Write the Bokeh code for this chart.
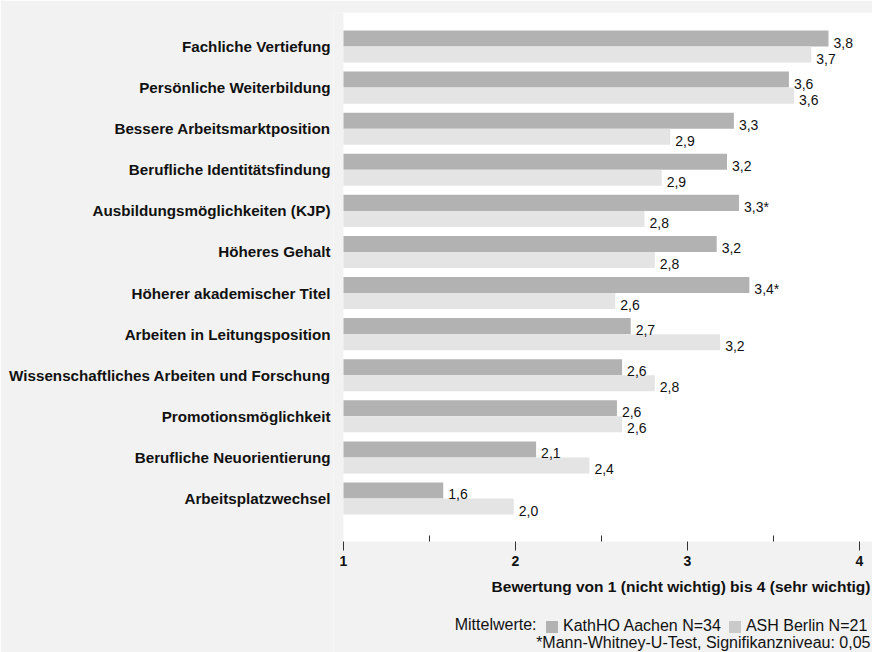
from bokeh.plotting import figure
from bokeh.models import (ColumnDataSource, Range1d, FixedTicker, Label, Legend, LegendItem,
                          BoxAnnotation)
from bokeh.embed import file_html
from bokeh.resources import INLINE

categories = [
    "Fachliche Vertiefung",
    "Persönliche Weiterbildung",
    "Bessere Arbeitsmarktposition",
    "Berufliche Identitätsfindung",
    "Ausbildungsmöglichkeiten (KJP)",
    "Höheres Gehalt",
    "Höherer akademischer Titel",
    "Arbeiten in Leitungsposition",
    "Wissenschaftliches Arbeiten und Forschung",
    "Promotionsmöglichkeit",
    "Berufliche Neuorientierung",
    "Arbeitsplatzwechsel",
]
aachen = [3.82, 3.59, 3.27, 3.23, 3.30, 3.17, 3.36, 2.67, 2.62, 2.59, 2.12, 1.58]
berlin = [3.72, 3.62, 2.90, 2.85, 2.75, 2.81, 2.58, 3.19, 2.81, 2.62, 2.43, 1.99]
aachen_labels = ["3,8", "3,6", "3,3", "3,2", "3,3*", "3,2", "3,4*", "2,7", "2,6", "2,6", "2,1", "1,6"]
berlin_labels = ["3,7", "3,6", "2,9", "2,9", "2,8", "2,8", "2,6", "3,2", "2,8", "2,6", "2,4", "2,0"]
x_ticks = [1, 2, 3, 4]
x_minor = [1.5, 2.5, 3.5]
series_names = ["KathHO Aachen N=34", "ASH Berlin N=21"]
legend_prefix = "Mittelwerte:"
axis_title = "Bewertung von 1 (nicht wichtig) bis 4 (sehr wichtig)"
footnote = "*Mann-Whitney-U-Test, Signifikanzniveau: 0,05"

FONT = "Liberation Sans"
DARK = "#b2b2b2"
LIGHT = "#e4e4e4"
BG = "#f2f2f2"
TXT = "#111111"

X_START = 0.9419    # a little grey room left of the value 1
X_END = 4.076
Y_TOP = -0.828      # top edge of the white plot area
Y_AXIS = 12.047     # position of the value axis (bottom of white area)
Y_BOTTOM = 14.748   # bottom edge of the frame (room for legend/notes)

idx = list(range(len(categories)))
BAR_H = 0.39
src = ColumnDataSource(dict(
    y1=[i - BAR_H / 2 for i in idx],
    y2=[i + BAR_H / 2 for i in idx],
    a=aachen, b=berlin, la=aachen_labels, lb=berlin_labels,
))

p = figure(width=872, height=652, output_backend="svg", toolbar_location=None,
           x_range=Range1d(X_START, X_END), y_range=Range1d(Y_BOTTOM, Y_TOP),
           min_border_left=333, min_border_right=0, min_border_top=12, min_border_bottom=0)
p.background_fill_color = BG
p.border_fill_color = BG
p.outline_line_color = None
p.xgrid.visible = False
p.ygrid.visible = False

p.add_layout(BoxAnnotation(left=1, bottom=Y_AXIS, fill_color="white", fill_alpha=1.0,
                           line_color=None, level="underlay"))

r1 = p.hbar(y="y1", left=1, right="a", height=BAR_H, source=src, fill_color=DARK, line_color=None)
r2 = p.hbar(y="y2", left=1, right="b", height=BAR_H, source=src, fill_color=LIGHT, line_color=None)
g2 = p.hbar(y="y2", left=1, right="b", height=BAR_H, source=src, fill_color="#cacaca",
            line_color=None, visible=False)

p.text(x="a", y="y1", text="la", source=src, x_offset=5, y_offset=4,
       text_baseline="middle", text_align="left", text_font_size="14px",
       text_color=TXT, text_font={"value": FONT})
p.text(x="b", y="y2", text="lb", source=src, x_offset=5, y_offset=4,
       text_baseline="middle", text_align="left", text_font_size="14px",
       text_color=TXT, text_font={"value": FONT})

# y axis
yax = p.yaxis[0]
yax.ticker = FixedTicker(ticks=idx)
yax.major_label_overrides = {i: c for i, c in zip(idx, categories)}
yax.axis_line_color = None
yax.major_tick_line_color = None
yax.minor_tick_line_color = None
yax.major_tick_in = 0
yax.major_tick_out = 0
yax.minor_tick_in = 0
yax.minor_tick_out = 0
yax.major_label_standoff = 3
yax.major_label_text_font = FONT
yax.major_label_text_font_style = "bold"
yax.major_label_text_font_size = "15.2px"
yax.major_label_text_color = TXT

# x axis, drawn at the bottom of the white area
xax = p.xaxis[0]
xax.fixed_location = Y_AXIS
xax.ticker = FixedTicker(ticks=x_ticks, minor_ticks=x_minor)
xax.axis_line_color = None
xax.major_tick_in = 0
xax.major_tick_out = 9
xax.minor_tick_in = 6
xax.minor_tick_out = 0
xax.major_tick_line_color = "#333333"
xax.minor_tick_line_color = "#333333"
xax.major_label_standoff = 5
xax.major_label_text_font = FONT
xax.major_label_text_font_style = "bold"
xax.major_label_text_font_size = "14px"
xax.major_label_text_color = TXT

p.add_layout(Label(x=537, y=66, x_units="screen", y_units="screen", text=axis_title,
                   text_align="right", text_baseline="middle", text_font=FONT,
                   text_font_style="bold", text_font_size="15.5px", text_color=TXT))
p.add_layout(Label(x=203, y=28, x_units="screen", y_units="screen", text=legend_prefix,
                   text_align="right", text_baseline="middle", text_font=FONT,
                   text_font_size="16px", text_color=TXT))
p.add_layout(Label(x=537, y=10, x_units="screen", y_units="screen", text=footnote,
                   text_align="right", text_baseline="middle", text_font=FONT,
                   text_font_size="16px", text_color=TXT))

legend = Legend(items=[LegendItem(label=series_names[0], renderers=[r1]),
                       LegendItem(label=series_names[1], renderers=[g2])],
                orientation="horizontal", location=(211, 17),
                glyph_width=15, glyph_height=15, label_standoff=4, spacing=6,
                padding=0, margin=0, border_line_color=None, background_fill_alpha=0,
                inactive_fill_alpha=0,
                label_text_font=FONT, label_text_font_size="16px",
                label_text_color=TXT, label_height=16)
p.add_layout(legend, "center")

open("out.html", "w").write(file_html(p, INLINE))
